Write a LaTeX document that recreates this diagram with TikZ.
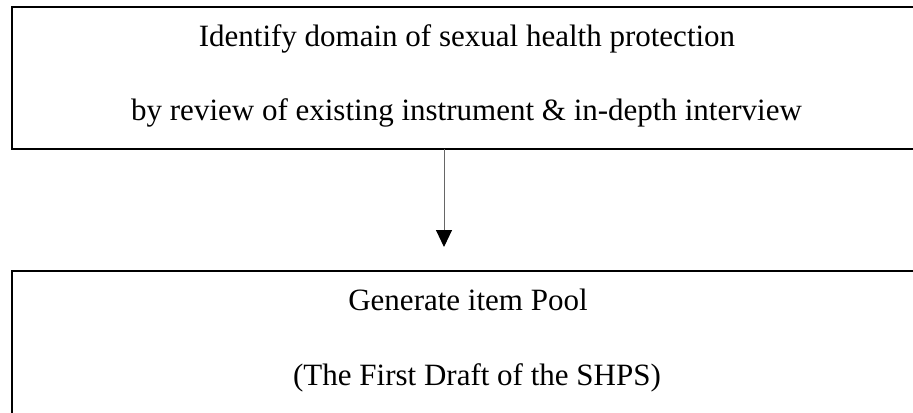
\documentclass[tikz,border=0pt]{standalone}
\usepackage{fontspec}
\setmainfont{Liberation Serif}
\usetikzlibrary{arrows.meta}

\tikzset{
  stagebox/.style={draw=black, line width=2bp, outer sep=0pt, inner sep=0pt,
                   anchor=north west, minimum width=910bp},
  label text/.style={anchor=base, inner sep=0pt, outer sep=0pt,
                     font=\fontsize{31bp}{37bp}\selectfont},
  flow/.style={draw=black!60, line width=1bp,
               -{Triangle[width=16bp,length=17bp,color=black,fill=black]}}
}

\begin{document}
\begin{tikzpicture}[x=1bp, y=-1bp]
  \useasboundingbox (0,0) rectangle (913,412);
  \clip (0,0) rectangle (913,412);
  \fill[white] (0,0) rectangle (913,412);

  % first stage
  \node[stagebox, minimum height=142bp] (stage1) at (12,7) {};
  \node[label text] (s1a) at (467,46) {Identify domain of sexual health protection};
  \node[label text] (s1b) at (466.5,120) {by review of existing instrument \& in-depth interview};

  % second stage
  \node[stagebox, minimum height=170bp] (stage2) at (12,271) {};
  \node[label text] (s2a) at (468,310) {Generate item Pool};
  \node[label text] (s2b) at (477,385) {(The First Draft of the SHPS)};

  % connector between the stages
  \coordinate (tip) at (444,247);
  \draw[flow] (stage1.south west -| tip) -- (tip);
\end{tikzpicture}
\end{document}
